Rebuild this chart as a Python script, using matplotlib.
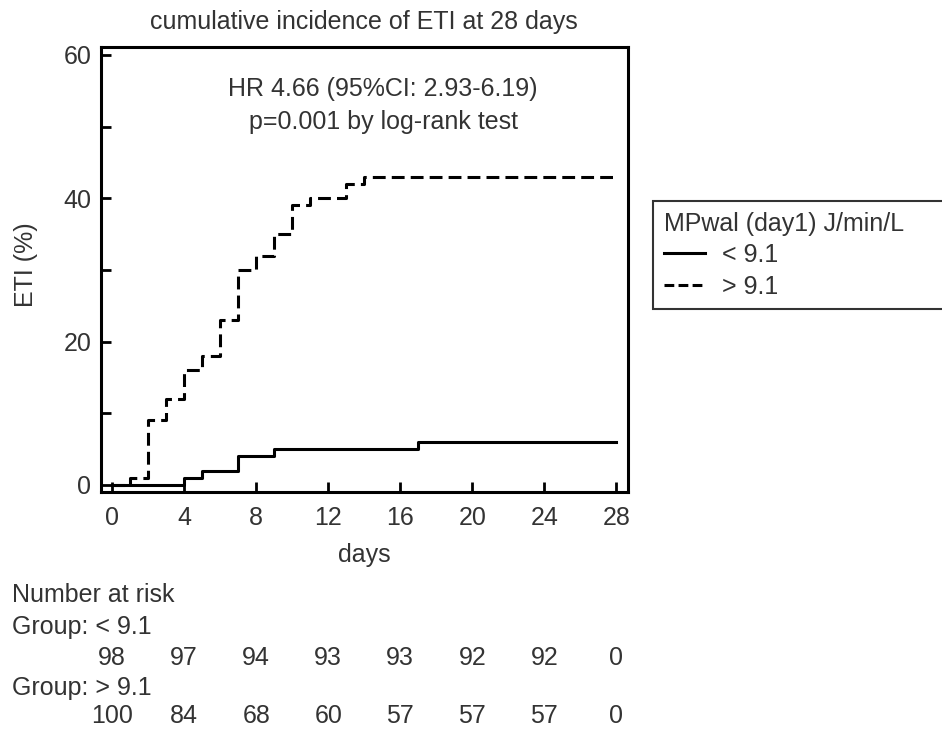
import matplotlib
matplotlib.use("Agg")
import matplotlib.pyplot as plt
import matplotlib.transforms as mtransforms

# cumulative incidence (%) step curves
days_low = [0, 4, 5, 7, 9, 17, 28]
eti_low = [0, 1, 2, 4, 5, 6, 6]
days_high = [0, 1, 2, 3, 4, 5, 6, 7, 8, 9, 10, 11, 13, 14, 28]
eti_high = [0, 1, 9, 12, 16, 18, 23, 30, 32, 35, 39, 40, 42, 43, 43]

# number at risk table
risk_days = [0, 4, 8, 12, 16, 20, 24, 28]
risk_low = [98, 97, 94, 93, 93, 92, 92, 0]
risk_high = [100, 84, 68, 60, 57, 57, 57, 0]

label_low = "< 9.1"
label_high = "> 9.1"
grey = "#333333"
fs = 18

plt.rcParams['font.family'] = ['Liberation Sans', 'DejaVu Sans']

W, H = 942, 729
fig = plt.figure(figsize=(W / 100, H / 100), dpi=100)
ax = fig.add_axes([101 / W, 1 - 492 / H, (628 - 101) / W, (492 - 47) / H])

ax.step(days_low, eti_low, where='post', color='black', lw=2.2, label=label_low)
ax.step(days_high, eti_high, where='post', color='black', lw=2.2,
        linestyle=(0, (4.2, 2.0)), label=label_high)

ax.set_xlim(-0.62, 28.65)
ax.set_ylim(-1.0, 61.1)
ax.set_xticks(risk_days)
ax.set_yticks([0, 20, 40, 60])
ax.set_yticks([10, 30, 50], minor=True)
ax.tick_params(axis='both', which='both', direction='in', length=7, width=2,
               labelsize=fs, labelcolor=grey)
ax.tick_params(axis='x', pad=10)
ax.tick_params(axis='y', pad=7)
for s in ax.spines.values():
    s.set_linewidth(2.2)

ax.set_xlabel("days", fontsize=fs, color=grey)
ax.xaxis.set_label_coords(0.5, -(555 - 492) / 445)
ax.xaxis.label.set_va('center')
ax.set_ylabel("ETI (%)", fontsize=fs, color=grey)
ax.yaxis.set_label_coords(-(101 - 26) / 527, (492 - 265) / 445)
ax.yaxis.label.set_va('center')

fig.text(364 / W, 1 - 22 / H, "cumulative incidence of ETI at 28 days",
         ha='center', va='center', fontsize=fs, color=grey)

ax.text(15.05, 55.2, "HR 4.66 (95%CI: 2.93-6.19)", ha='center', va='center',
        fontsize=fs, color=grey)
ax.text(15.05, 50.6, "p=0.001 by log-rank test", ha='center', va='center',
        fontsize=fs, color=grey)

# legend box runs off the right edge in the original
leg = ax.legend(loc='upper left', bbox_to_anchor=(653 / W, 1 - 201 / H, (950 - 653) / W, 0),
                bbox_transform=fig.transFigure, mode='expand', borderaxespad=0,
                title="MPwal (day1) J/min/L", title_fontsize=fs, fontsize=fs,
                alignment='left', fancybox=False, edgecolor='black',
                handlelength=1.65, handletextpad=0.7, labelspacing=0.3,
                borderpad=0.42)
leg.get_frame().set_linewidth(1.5)
leg.get_title().set_color(grey)
for t in leg.get_texts():
    t.set_color(grey)
leg.get_lines()[1].set_dashes((3.2, 1.4))

# number at risk below the plot
trans = mtransforms.blended_transform_factory(ax.transData, fig.transFigure)
fig.text(12 / W, 1 - 595 / H, "Number at risk", ha='left', va='center', fontsize=fs, color=grey)
fig.text(12 / W, 1 - 627 / H, "Group: " + label_low, ha='left', va='center', fontsize=fs, color=grey)
fig.text(12 / W, 1 - 688 / H, "Group: " + label_high, ha='left', va='center', fontsize=fs, color=grey)
for d, n1, n2 in zip(risk_days, risk_low, risk_high):
    ax.text(d, 1 - 658 / H, str(n1), transform=trans, ha='center', va='center',
            fontsize=fs, color=grey)
    ax.text(d, 1 - 716 / H, str(n2), transform=trans, ha='center', va='center',
            fontsize=fs, color=grey)

fig.savefig("out.png", dpi=100)
